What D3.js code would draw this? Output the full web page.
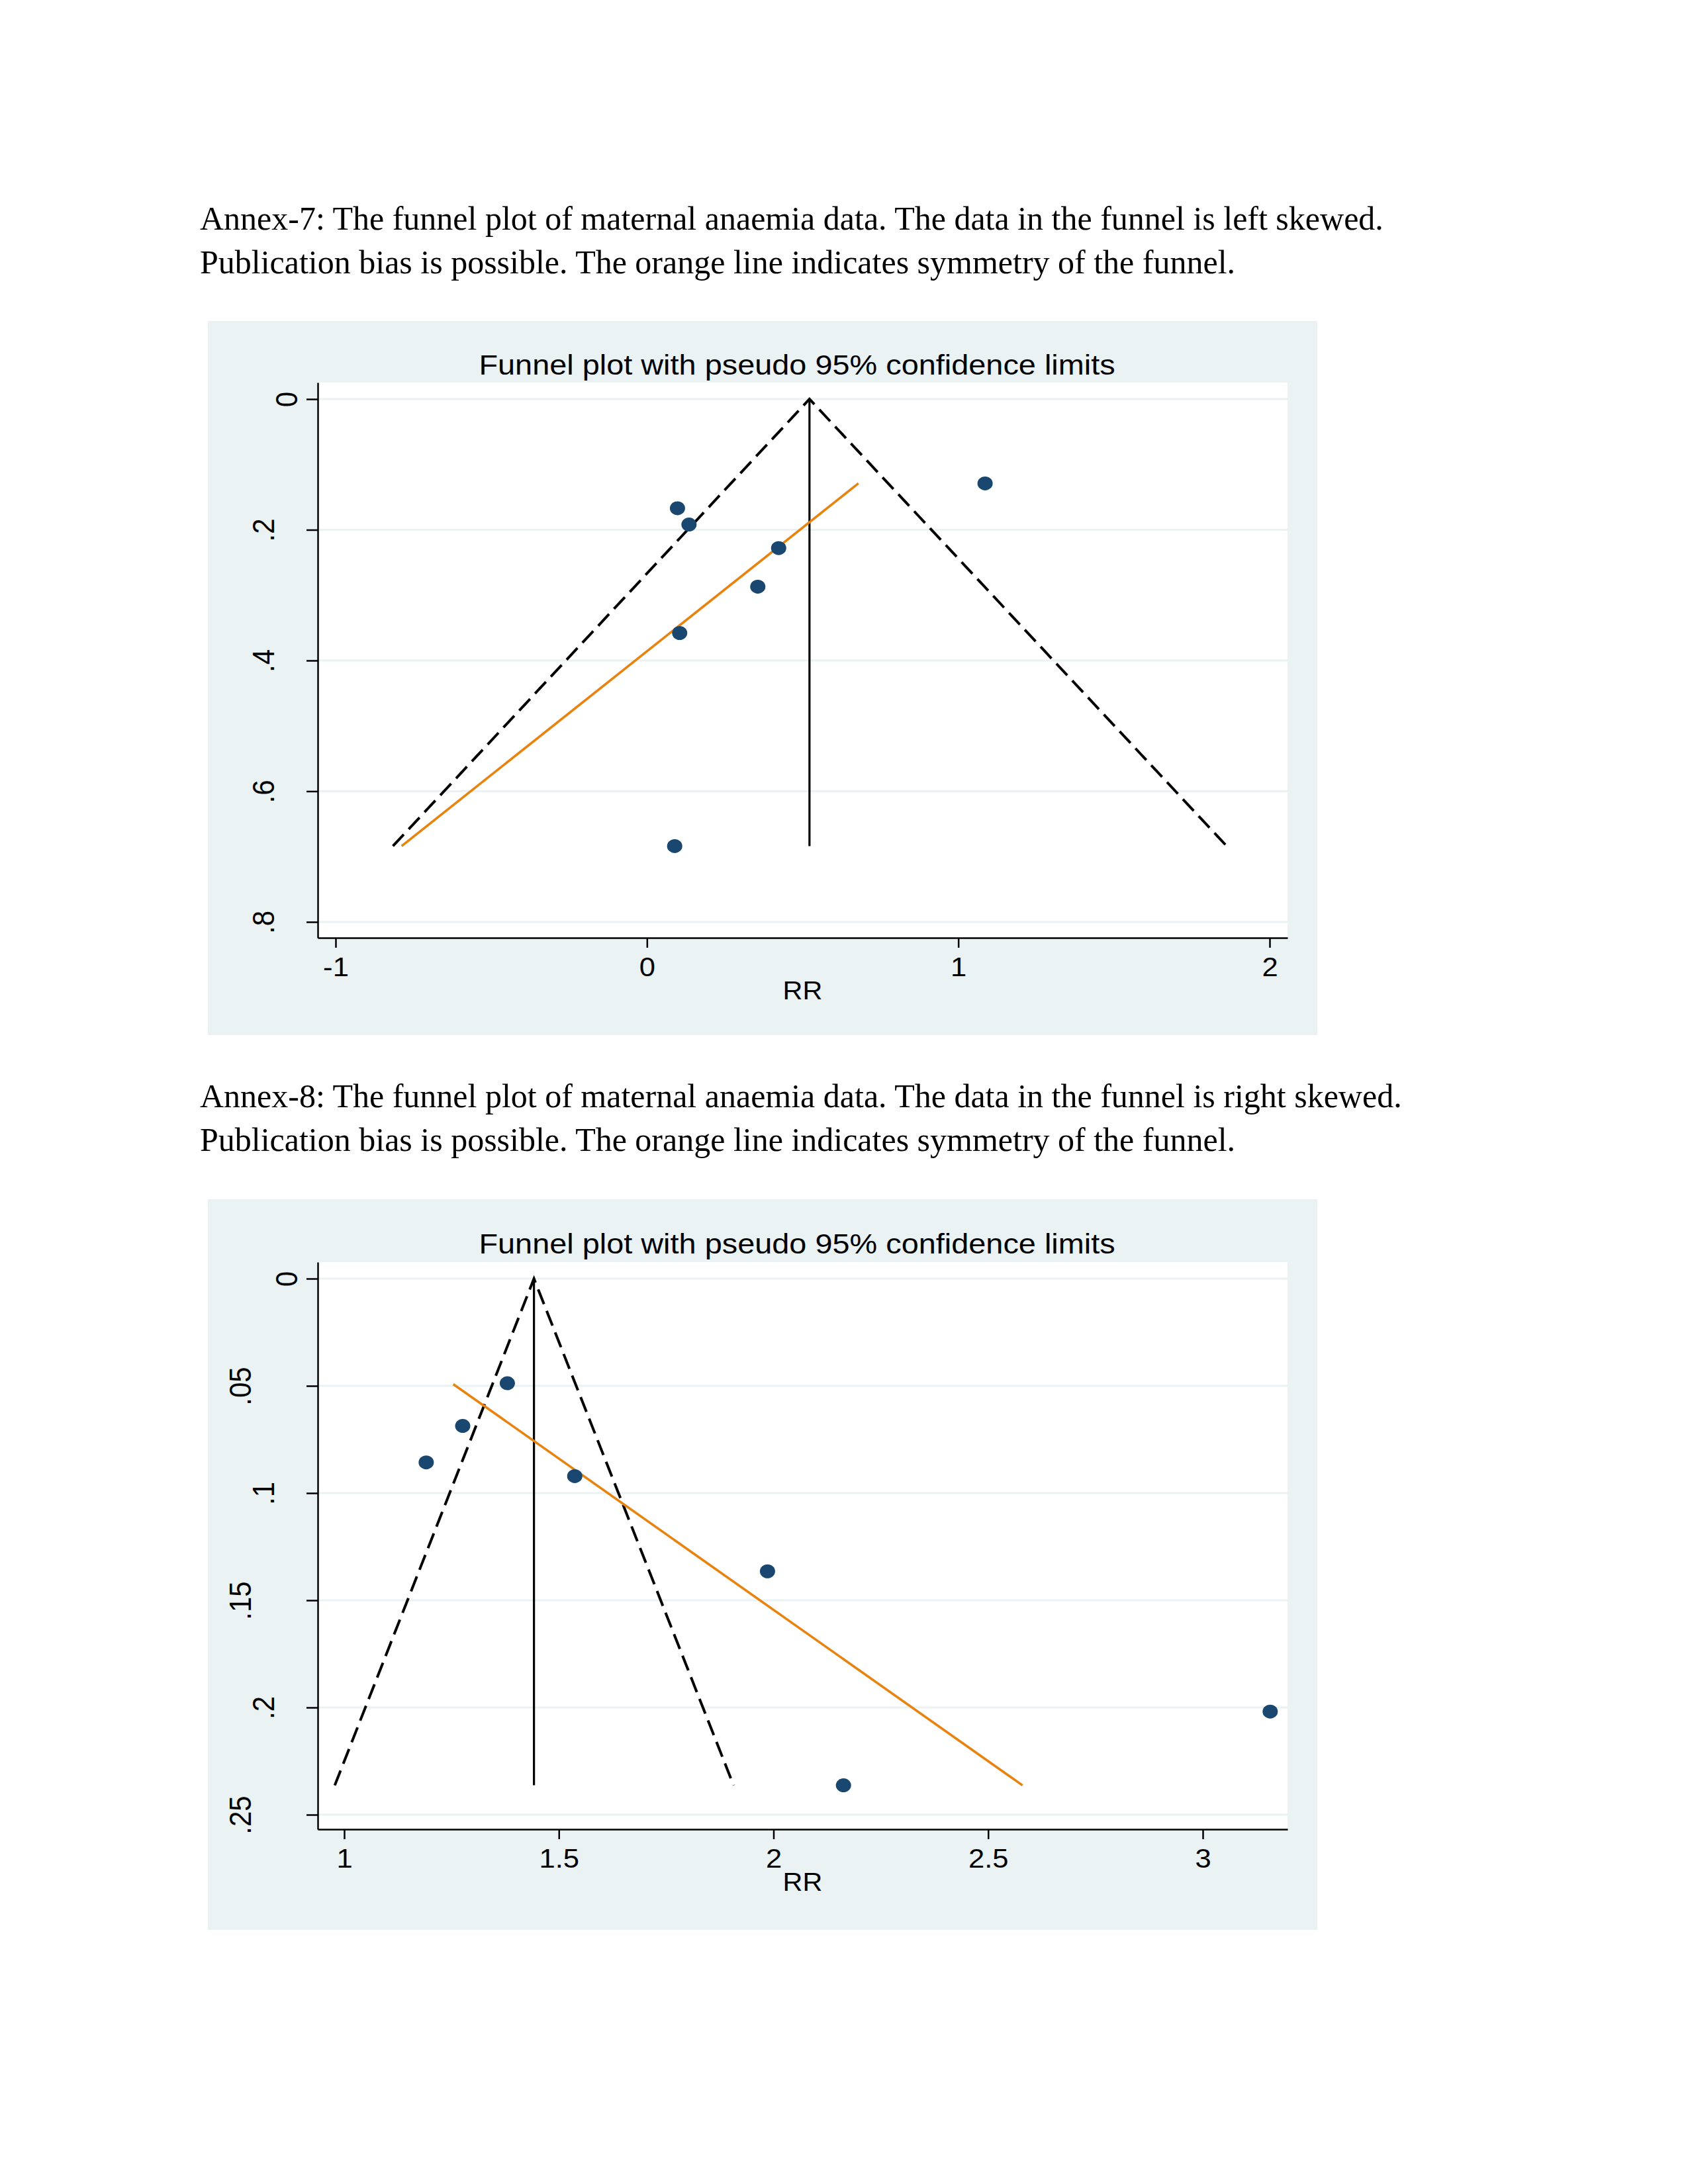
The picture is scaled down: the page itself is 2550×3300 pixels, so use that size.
<!DOCTYPE html>
<html>
<head>
<meta charset="utf-8">
<script src="https://cdn.jsdelivr.net/npm/d3@7"></script>
<style>
  body { margin: 0; background: #fff; }
  svg { display: block; }
</style>
</head>
<body>
<div class="canvas"></div>
<script>
// ---- data ----
// Annex-7 (log RR scale)
const est7 = [0.098, 0.135, 0.423, 0.356, 0.105, 0.089, 1.086];
const se7 = [0.167, 0.192, 0.228, 0.287, 0.358, 0.684, 0.129];
const funnelX7 = [-0.816, 0.522, 1.862];
const funnelSE7 = [0.684, 0, 0.684];
const pooledSE7 = [0, 0.684];
const eggerX7 = [0.679, -0.788];
const eggerSE7 = [0.129, 0.684];
const xTicks7 = [-1, 0, 1, 2];
const yTicks7 = [0, 0.2, 0.4, 0.6, 0.8];

// Annex-8 (RR scale)
const est8 = [1.380, 1.276, 1.191, 1.537, 1.986, 2.163, 3.157];
const se8 = [0.0488, 0.0687, 0.0857, 0.0921, 0.1365, 0.2363, 0.2019];
const funnelX8 = [0.978, 1.442, 1.907];
const funnelSE8 = [0.2363, 0, 0.2363];
const pooledSE8 = [0, 0.2363];
const eggerX8 = [1.254, 2.580];
const eggerSE8 = [0.0492, 0.2363];
const xTicks8 = [1, 1.5, 2, 2.5, 3];
const yTicks8 = [0, 0.05, 0.1, 0.15, 0.2, 0.25];

const captions7 = [
  "Annex-7: The funnel plot of maternal anaemia data. The data in the funnel is left skewed.",
  "Publication bias is possible. The orange line indicates symmetry of the funnel."
];
const captions8 = [
  "Annex-8: The funnel plot of maternal anaemia data. The data in the funnel is right skewed.",
  "Publication bias is possible. The orange line indicates symmetry of the funnel."
];
const chartTitle = "Funnel plot with pseudo 95% confidence limits";
const xTitle = "RR";

// ---- drawing ----
const sans = "'Liberation Sans', Arial, sans-serif";
const serif = "'Liberation Serif', 'Times New Roman', serif";
// the graph in the document is stretched a little sideways, so is its text
const stretch = 1.09;

const svg = d3.select(".canvas")
  .append("svg")
  .attr("width", 2550)
  .attr("height", 3300);

svg.append("rect")
  .attr("width", 2550)
  .attr("height", 3300)
  .attr("fill", "#fff");

// Stata style labels: ".2" instead of "0.2", "-1" with a hyphen
const stataFmt = d => d === 0 ? "0" : String(d).replace(/^0\./, ".").replace(/^-0\./, "-.");

const drawCaption = (lines, baseline) => {
  svg.append("g")
    .selectAll("text")
    .data(lines)
    .enter()
    .append("text")
      .attr("x", 302)
      .attr("y", (d, i) => baseline + i * 66)
      .attr("font-family", serif)
      .attr("font-size", 50)
      .attr("fill", "#000")
      .text(d => d);
};

const stretchedText = (g, x, y, size, str) => {
  g.append("text")
    .attr("transform", `translate(${x},${y}) scale(${stretch},1)`)
    .attr("text-anchor", "middle")
    .attr("font-family", sans)
    .attr("font-size", size)
    .attr("fill", "#000")
    .text(str);
};

const drawFunnel = cfg => {
  const g = svg.append("g");

  // outer graph region
  g.append("rect")
    .attr("x", cfg.panel.x)
    .attr("y", cfg.panel.y)
    .attr("width", cfg.panel.w)
    .attr("height", cfg.panel.h)
    .attr("fill", "#eaf2f3");

  const p = cfg.plot;
  g.append("rect")
    .attr("x", p.left)
    .attr("y", p.top)
    .attr("width", p.right - p.left)
    .attr("height", p.bottom - p.top)
    .attr("fill", "#fff");

  // scales anchored on two ticks, then stretched to the plot edges
  const x0 = d3.scaleLinear().domain(cfg.xAnchor.v).range(cfg.xAnchor.px);
  const y0 = d3.scaleLinear().domain(cfg.yAnchor.v).range(cfg.yAnchor.px);
  const x = d3.scaleLinear().domain([x0.invert(p.left), x0.invert(p.right)]).range([p.left, p.right]);
  const y = d3.scaleLinear().domain([y0.invert(p.top), y0.invert(p.bottom)]).range([p.top, p.bottom]);

  // grid lines
  g.append("g")
    .selectAll("line")
    .data(cfg.yTicks)
    .enter()
    .append("line")
      .attr("x1", p.left)
      .attr("x2", p.right)
      .attr("y1", d => y(d))
      .attr("y2", d => y(d))
      .attr("stroke", "#eaf2f3")
      .attr("stroke-width", 3);

  const line = d3.line()
    .x(d => x(d[0]))
    .y(d => y(d[1]));

  // pseudo 95% limits
  g.append("path")
    .datum(d3.zip(cfg.funnelX, cfg.funnelSE))
    .attr("d", line)
    .attr("fill", "none")
    .attr("stroke", "#000")
    .attr("stroke-width", 4)
    .attr("stroke-dasharray", "24,11");

  // pooled estimate
  g.append("path")
    .datum(cfg.pooledSE.map(s => [cfg.funnelX[1], s]))
    .attr("d", line)
    .attr("fill", "none")
    .attr("stroke", "#000")
    .attr("stroke-width", 3.2);

  // orange line
  g.append("path")
    .datum(d3.zip(cfg.eggerX, cfg.eggerSE))
    .attr("d", line)
    .attr("fill", "none")
    .attr("stroke", "#e8830f")
    .attr("stroke-width", 3.6);

  // studies
  g.append("g")
    .selectAll("ellipse")
    .data(d3.zip(cfg.est, cfg.se))
    .enter()
    .append("ellipse")
      .attr("cx", d => x(d[0]))
      .attr("cy", d => y(d[1]))
      .attr("rx", 11.5)
      .attr("ry", 10.5)
      .attr("fill", "#1a476f");

  // axes
  const xAxis = d3.axisBottom(x)
    .tickValues(cfg.xTicks)
    .tickFormat(stataFmt)
    .tickSize(15)
    .tickSizeOuter(0);

  const yAxis = d3.axisLeft(y)
    .tickValues(cfg.yTicks)
    .tickFormat(stataFmt)
    .tickSize(17)
    .tickSizeOuter(0);

  const xAxisGroup = g.append("g")
    .attr("transform", `translate(0,${p.bottom})`)
    .call(xAxis);

  const yAxisGroup = g.append("g")
    .attr("transform", `translate(${p.left},0)`)
    .call(yAxis);

  [xAxisGroup, yAxisGroup].forEach(ax => {
    ax.select(".domain").attr("stroke", "#000").attr("stroke-width", 2.5);
    ax.selectAll(".tick line").attr("stroke", "#000").attr("stroke-width", 2.5);
    ax.selectAll("text")
      .attr("fill", "#000")
      .attr("font-family", sans);
  });

  xAxisGroup.selectAll("text")
    .attr("font-size", 40)
    .attr("y", 0)
    .attr("dy", 0)
    .attr("transform", `translate(0,58) scale(${stretch},1)`);

  // rotated y labels, longer labels sit further left (as in the original)
  yAxisGroup.selectAll("text")
    .attr("font-size", 42)
    .attr("x", 0)
    .attr("dy", "0.35em")
    .attr("text-anchor", "middle")
    .attr("transform", function () {
      const len = this.textContent.length;
      return `translate(${-(47 + 35 * (len - 1))},0) scale(${stretch},1) rotate(-90)`;
    });

  // titles
  stretchedText(g, cfg.titleX, cfg.titleY, 43, chartTitle);
  stretchedText(g, (p.left + p.right) / 2, p.bottom + 93, 38, xTitle);
};

drawCaption(captions7, 347);
drawFunnel({
  panel: { x: 314, y: 485, w: 1676, h: 1079 },
  plot: { left: 480, top: 578, right: 1945, bottom: 1417 },
  xAnchor: { v: [-1, 2], px: [507, 1918] },
  yAnchor: { v: [0, 0.8], px: [603, 1393] },
  titleX: 1204, titleY: 566,
  est: est7, se: se7,
  funnelX: funnelX7, funnelSE: funnelSE7, pooledSE: pooledSE7,
  eggerX: eggerX7, eggerSE: eggerSE7,
  xTicks: xTicks7, yTicks: yTicks7
});

drawCaption(captions8, 1673);
drawFunnel({
  panel: { x: 314, y: 1812, w: 1676, h: 1104 },
  plot: { left: 480, top: 1907, right: 1945, bottom: 2764 },
  xAnchor: { v: [1, 3], px: [520, 1817] },
  yAnchor: { v: [0, 0.25], px: [1932, 2742] },
  titleX: 1204, titleY: 1894,
  est: est8, se: se8,
  funnelX: funnelX8, funnelSE: funnelSE8, pooledSE: pooledSE8,
  eggerX: eggerX8, eggerSE: eggerSE8,
  xTicks: xTicks8, yTicks: yTicks8
});
</script>
</body>
</html>
